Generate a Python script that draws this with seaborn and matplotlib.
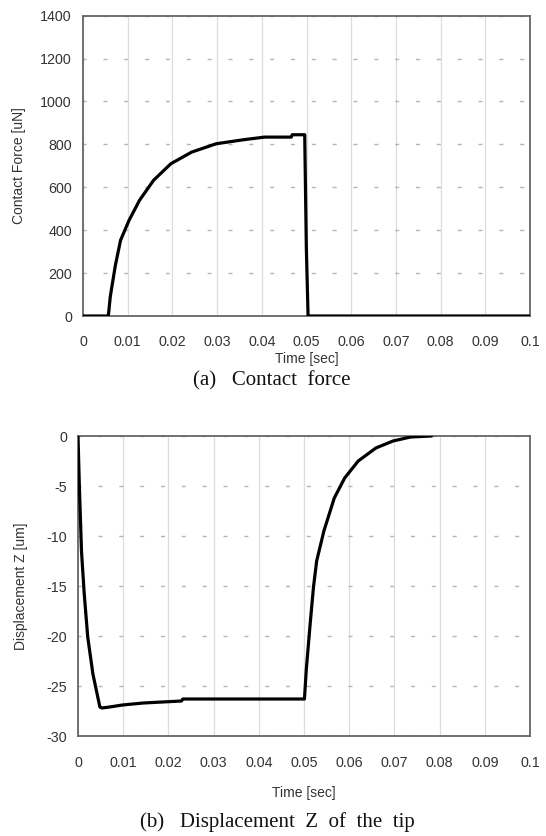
import matplotlib
matplotlib.use("Agg")
import matplotlib.pyplot as plt
import seaborn as sns
import pandas as pd

# ---- data ----
force_time = [0.0, 0.0055, 0.00567, 0.0061, 0.00723, 0.0084, 0.0103, 0.01266, 0.0158,
              0.01966, 0.0243, 0.0298, 0.036, 0.0406, 0.0466, 0.0468, 0.0496,
              0.04996, 0.05035, 0.06, 0.08, 0.1]
force_val = [0, 0, 0, 90, 235, 353, 446, 540, 633,
             710, 764, 803, 822, 834, 834, 845, 845,
             322, 0, 0, 0, 0]

disp_time = [0.0, 0.0003, 0.00077, 0.00138, 0.00215, 0.0033, 0.00484, 0.0053, 0.0070,
             0.00983, 0.01444, 0.0229, 0.0232, 0.0498, 0.0501, 0.0505, 0.0513, 0.0521,
             0.0528, 0.0544, 0.0567, 0.059, 0.062, 0.0659, 0.0697, 0.0736, 0.0782]
disp_val = [0.0, -5.0, -11.5, -15.8, -20.1, -23.8, -27.1, -27.2, -27.1,
            -26.9, -26.7, -26.5, -26.3, -26.3, -26.3, -23.4, -19.1, -15.1,
            -12.5, -9.5, -6.2, -4.2, -2.5, -1.2, -0.5, -0.1, 0.0]

x_ticks = [0, 0.01, 0.02, 0.03, 0.04, 0.05, 0.06, 0.07, 0.08, 0.09, 0.1]
x_labels = ["0", "0.01", "0.02", "0.03", "0.04", "0.05", "0.06", "0.07", "0.08", "0.09", "0.1"]
force_ticks = [0, 200, 400, 600, 800, 1000, 1200, 1400]
force_labels = ["0", "200", "400", "600", "800", "1000", "1200", "1400"]
disp_ticks = [0, -5, -10, -15, -20, -25, -30]
disp_labels = ["0", "-5", "-10", "-15", "-20", "-25", "-30"]

sns.set_style("white")
plt.rcParams["font.family"] = ["Liberation Sans", "DejaVu Sans"]

W, H = 546, 836
fig = plt.figure(figsize=(W / 100, H / 100), dpi=100)


def box(l, t, r, b):
    return [l / W, 1 - b / H, (r - l) / W, (b - t) / H]


ax1 = fig.add_axes(box(83, 15.7, 530, 316))
ax2 = fig.add_axes(box(78, 436, 530, 736))

df1 = pd.DataFrame({"t": force_time, "v": force_val})
df2 = pd.DataFrame({"t": disp_time, "v": disp_val})
sns.lineplot(data=df1, x="t", y="v", ax=ax1, color="black", lw=2.3, sort=False, zorder=5)
sns.lineplot(data=df2, x="t", y="v", ax=ax2, color="black", lw=2.3, sort=False, zorder=5)

dash = (0.6, (2.9, 12.1))
for ax, yt, yl, ylab, xlc, ylc, pad in [
    (ax1, force_ticks, force_labels, "Contact Force [uN]", -0.12, -0.1275, 13.5),
    (ax2, disp_ticks, disp_labels, "Displacement Z [um]", -0.165, -0.11, 14.5),
]:
    ax.set_xlim(0, 0.1)
    ax.set_ylim(min(yt), max(yt))
    ax.set_xticks(x_ticks)
    ax.set_xticklabels(x_labels)
    ax.set_yticks(yt)
    ax.set_yticklabels(yl)
    ax.tick_params(axis="both", length=0, labelsize=10.3, colors="#333333")
    ax.tick_params(axis="x", pad=pad)
    ax.tick_params(axis="y", pad=8)
    ax.set_xlabel("Time [sec]", fontsize=10, color="#333333")
    ax.set_ylabel(ylab, fontsize=10, color="#333333")
    ax.xaxis.set_label_coords(0.5, xlc)
    ax.yaxis.set_label_coords(ylc, 0.5)
    ax.xaxis.grid(True, color="#dddddd", lw=0.9, ls="-")
    ax.yaxis.grid(True, color="#b5b5b5", lw=1.0, ls=dash)
    ax.set_axisbelow(True)
    for s in ax.spines.values():
        s.set_color("#666666")
        s.set_linewidth(1.3)
        s.set_visible(True)

fig.text(272 / W, 1 - 381 / H, "(a)   Contact  force", ha="center", va="center",
         fontsize=15, family=["Liberation Serif", "DejaVu Serif"], color="#111111")
fig.text(277 / W, 1 - 822 / H, "(b)   Displacement  Z  of  the  tip", ha="center", va="center",
         fontsize=15, family=["Liberation Serif", "DejaVu Serif"], color="#111111")

fig.savefig("out.png", dpi=100)
